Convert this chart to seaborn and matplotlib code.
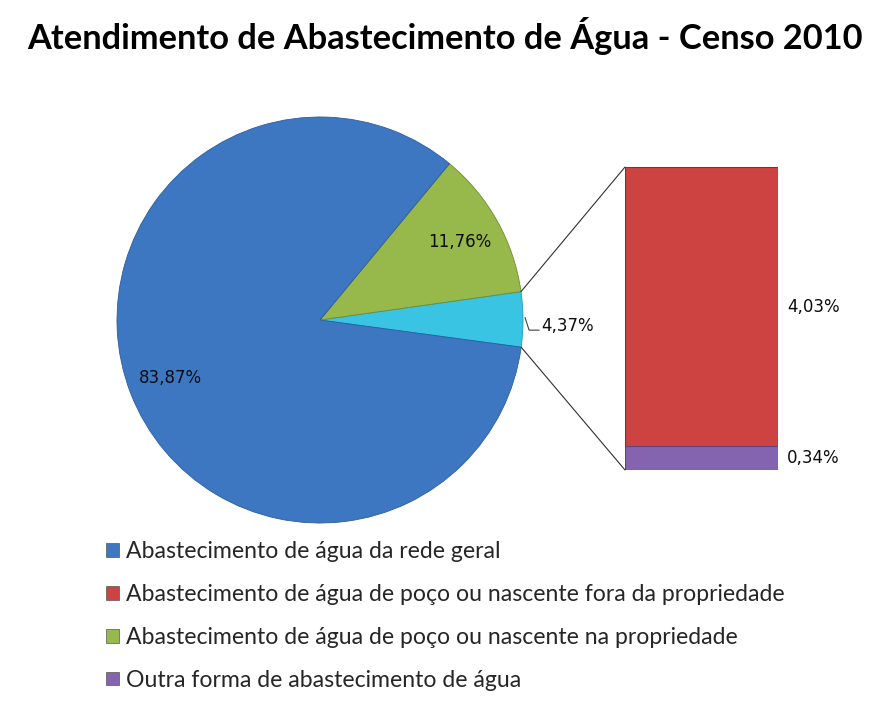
import matplotlib
matplotlib.use("Agg")
import matplotlib.pyplot as plt
from matplotlib.patches import Patch, ConnectionPatch
import numpy as np
import seaborn as sns

sns.set_theme(style="white")
plt.rcParams['font.family'] = ['DejaVu Sans']

# ---- data ----
title = "Atendimento de Abastecimento de Água - Censo 2010"
categories = [
    "Abastecimento de água da rede geral",
    "Abastecimento de água de poço ou nascente fora da propriedade",
    "Abastecimento de água de poço ou nascente na propriedade",
    "Outra forma de abastecimento de água",
]
values = [83.87, 4.03, 11.76, 0.34]
colors = ["#3d77c1", "#cc4341", "#97b84a", "#8464b0"]
other_color = "#38c4e2"
other_total_label = "4,37%"

rede, fora, na, outra = values
pie_vals = [fora + outra, na, rede]
pie_cols = [other_color, colors[2], colors[0]]

def fmt(v):
    return f"{v:.2f}".replace(".", ",") + "%"

W, H = 893, 703
fig = plt.figure(figsize=(W / 100, H / 100), dpi=100)
fig.patch.set_facecolor("white")

# pie axes
cx, cy, r = 320, 320, 203
axp = fig.add_axes([(cx - r) / W, (H - cy - r) / H, 2 * r / W, 2 * r / H])
wedges, _ = axp.pie(pie_vals, colors=pie_cols, startangle=-7.7, counterclock=True,
                    radius=1.0, wedgeprops=dict(linewidth=0.6))
for w, c in zip(wedges, ["#1f9ab8", "#6f8c30", "#2c5d9c"]):
    w.set_edgecolor(c)
axp.set_xlim(-1, 1)
axp.set_ylim(-1, 1)
axp.set_aspect("equal")
axp.axis("off")

# labels inside slices
for w, v in zip(wedges[1:], [na, rede]):
    ang = np.deg2rad((w.theta1 + w.theta2) / 2)
    axp.text(0.79 * np.cos(ang), 0.79 * np.sin(ang), fmt(v), ha="center", va="center",
             fontsize=12, color="#0d0d0d")
# outside label for combined slice
w0 = wedges[0]
ang0 = np.deg2rad((w0.theta1 + w0.theta2) / 2)
axp.plot([1.01 * np.cos(ang0), 1.03, 1.08], [np.sin(ang0) + 0.01, -0.05, -0.05],
         color="#404040", lw=0.8, clip_on=False)
axp.text(1.09, -0.03, other_total_label, ha="left", va="center", fontsize=12,
         color="#0d0d0d")

# bar axes
bx0, bx1, by0, by1 = 625, 778, 167, 470
axb = fig.add_axes([bx0 / W, (H - by1) / H, (bx1 - bx0) / W, (by1 - by0) / H])
sns.barplot(x=[0], y=[fora + outra], color=colors[1], width=1.0, ax=axb,
            edgecolor="#8e2b2a", linewidth=0.8, saturation=1)
sns.barplot(x=[0], y=[outra], color=colors[3], width=1.0, ax=axb,
            edgecolor="#5b4480", linewidth=0.8, saturation=1)
axb.set_xlim(-0.5, 0.5)
axb.set_ylim(0, fora + outra)
axb.axis("off")
axb.text(0.5 + 0.06, outra + fora / 2, fmt(fora), ha="left", va="center",
         fontsize=12, color="#0d0d0d")
axb.text(0.5 + 0.06, outra / 2, fmt(outra), ha="left", va="center",
         fontsize=12, color="#0d0d0d")

# connector lines
t1, t2 = np.deg2rad(w0.theta1), np.deg2rad(w0.theta2)
for t, yb in [(t2, fora + outra), (t1, 0)]:
    con = ConnectionPatch(xyA=(np.cos(t), np.sin(t)), coordsA=axp.transData,
                          xyB=(-0.5, yb), coordsB=axb.transData,
                          color="#303030", lw=0.8)
    fig.add_artist(con)

# title, sized to span the same width as the reference
ttl = fig.text(445 / W, 1 - 36 / H, title, ha="center", va="center", fontsize=27,
               fontweight="bold", family="Lato", color="black")
renderer = fig.canvas.get_renderer()
tw = ttl.get_window_extent(renderer).width
ttl.set_fontsize(27 * 834 / tw)

# legend
handles = [Patch(facecolor=c, edgecolor="#555555", linewidth=0.5) for c in colors]
leg = fig.legend(handles, categories, loc="upper left",
                 bbox_to_anchor=(106 / W, 1 - 541 / H), frameon=False,
                 prop=dict(family="Lato", size=16.6), handlelength=0.55,
                 handleheight=0.55, handletextpad=0.3, labelspacing=0.95,
                 borderaxespad=0, borderpad=0)

fig.savefig("out.png", dpi=100, facecolor="white")
